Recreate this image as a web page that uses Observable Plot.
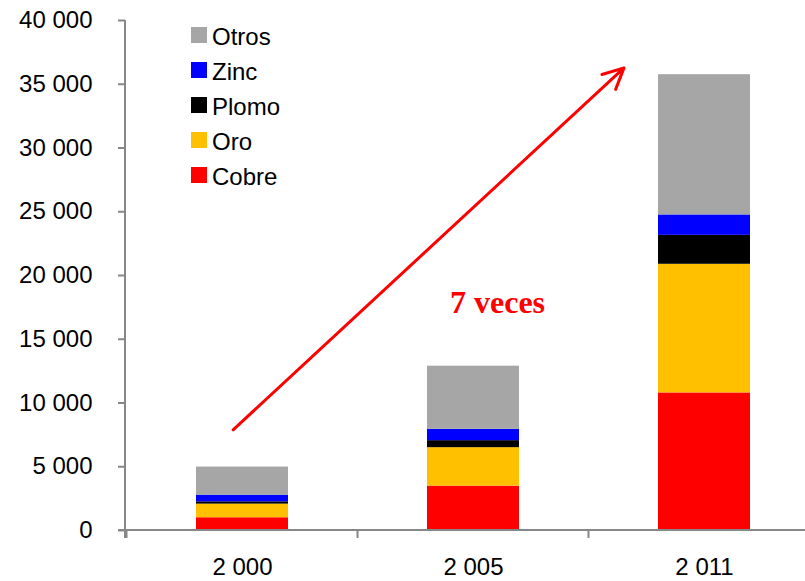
<!DOCTYPE html>
<html>
<head>
<meta charset="utf-8">
<script src="https://cdn.jsdelivr.net/npm/d3@7"></script>
<script src="https://cdn.jsdelivr.net/npm/@observablehq/plot@0.6"></script>
<style>
  html, body { margin: 0; padding: 0; background: #fff; overflow: hidden; }
  #wrap { position: relative; width: 805px; height: 581px; overflow: hidden; font-family: "Liberation Sans", Arial, sans-serif; }
  #legend { position: absolute; left: 191px; top: 18px; font-size: 24px; color: #000; }
  #legend .row { display: flex; align-items: center; height: 34.8px; }
  #legend .sw { width: 16px; height: 16px; margin-right: 5px; }
  #legend span { position: relative; top: 2px; }
</style>
</head>
<body>
<div id="wrap"><div id="legend"></div></div>
<script>
// Categories and series
const years = ["2 000", "2 005", "2 011"];
const metals = ["Cobre", "Oro", "Plomo", "Zinc", "Otros"]; // bottom to top
const colors = ["#ff0000", "#ffc000", "#000000", "#0000ff", "#a6a6a6"];
const cobre = [1000, 3480, 10790];
const oro   = [1070, 3017, 10090];
const plomo = [180, 550, 2270];
const zinc  = [525, 890, 1600];
const otros = [2200, 4950, 11000];
const yTicks = [0, 5000, 10000, 15000, 20000, 25000, 30000, 35000, 40000];
const legendOrder = ["Otros", "Zinc", "Plomo", "Oro", "Cobre"];
const annotation = ["7 veces"];

const seriesValues = {Cobre: cobre, Oro: oro, Plomo: plomo, Zinc: zinc, Otros: otros};
const data = [];
years.forEach((yr, i) => metals.forEach(m => data.push({year: yr, metal: m, value: seriesValues[m][i]})));

const fmt = d3.formatLocale({decimal: ",", thousands: " ", grouping: [3], currency: ["", ""]}).format(",");
const gray = "#878787";

// Custom axis lines: y axis line, x baseline, and band-boundary ticks
function axesLines(index, scales) {
  const {x, y} = scales;
  const g = d3.create("svg:g").attr("stroke", gray).attr("stroke-width", 2).attr("fill", "none");
  const step = x.step(), bw = x.bandwidth();
  const [r0] = x.range();
  const yTop = y(yTicks[yTicks.length - 1]), y0 = y(0);
  g.append("line").attr("x1", r0).attr("x2", r0).attr("y1", yTop).attr("y2", y0 + 8);
  g.append("line").attr("x1", r0 - 7).attr("x2", 805).attr("y1", y0).attr("y2", y0);
  const dom = x.domain();
  const bounds = dom.map(d => x(d) - (step - bw) / 2).concat([x(dom[dom.length - 1]) + bw + (step - bw) / 2]);
  bounds.forEach(b => g.append("line").attr("x1", b).attr("x2", b).attr("y1", y0).attr("y2", y0 + 8));
  return g.node();
}

const chart = Plot.plot({
  width: 805,
  height: 581,
  marginLeft: 125,
  marginRight: 0,
  marginTop: 20,
  marginBottom: 51,
  style: {fontFamily: "'Liberation Sans', Arial, sans-serif", background: "transparent", overflow: "hidden"},
  x: {domain: years, range: [125, 821], paddingInner: 0.603, paddingOuter: 0.3017, axis: null},
  y: {domain: [0, 40000], axis: null},
  color: {domain: metals, range: colors},
  marks: [
    Plot.barY(data, {x: "year", y: "value", fill: "metal", order: metals}),
    Plot.axisY({ticks: yTicks, tickFormat: fmt, tickSize: 7, tickPadding: 26, fontSize: 24, stroke: gray, strokeWidth: 2, fill: "black", color: "black"}),
    Plot.axisX({tickSize: 0, tickPadding: 27, fontSize: 24, fill: "black"}),
    axesLines,
    Plot.arrow([{x1: years[0], y1: 7898, x2: years[2], y2: 41451}], {
      x1: "x1", y1: "y1", x2: "x2", y2: "y2", dx: -9.35, insetEnd: 97,
      stroke: "#ff0000", strokeWidth: 3, headLength: 11.5, headAngle: 52
    }),
    Plot.text(annotation, {x: () => years[1], y: () => 17900, text: d => d, dx: 24,
      fontFamily: "'Liberation Serif', 'Times New Roman', serif", fontWeight: "bold", fontSize: 32,
      fill: "#ff0000", letterSpacing: 1.6})
  ]
});
document.getElementById("wrap").prepend(chart);

const legend = document.getElementById("legend");
legendOrder.forEach(m => {
  const row = document.createElement("div");
  row.className = "row";
  const sw = document.createElement("div");
  sw.className = "sw";
  sw.style.background = colors[metals.indexOf(m)];
  const lab = document.createElement("span");
  lab.textContent = m;
  row.appendChild(sw); row.appendChild(lab);
  legend.appendChild(row);
});
</script>
</body>
</html>
